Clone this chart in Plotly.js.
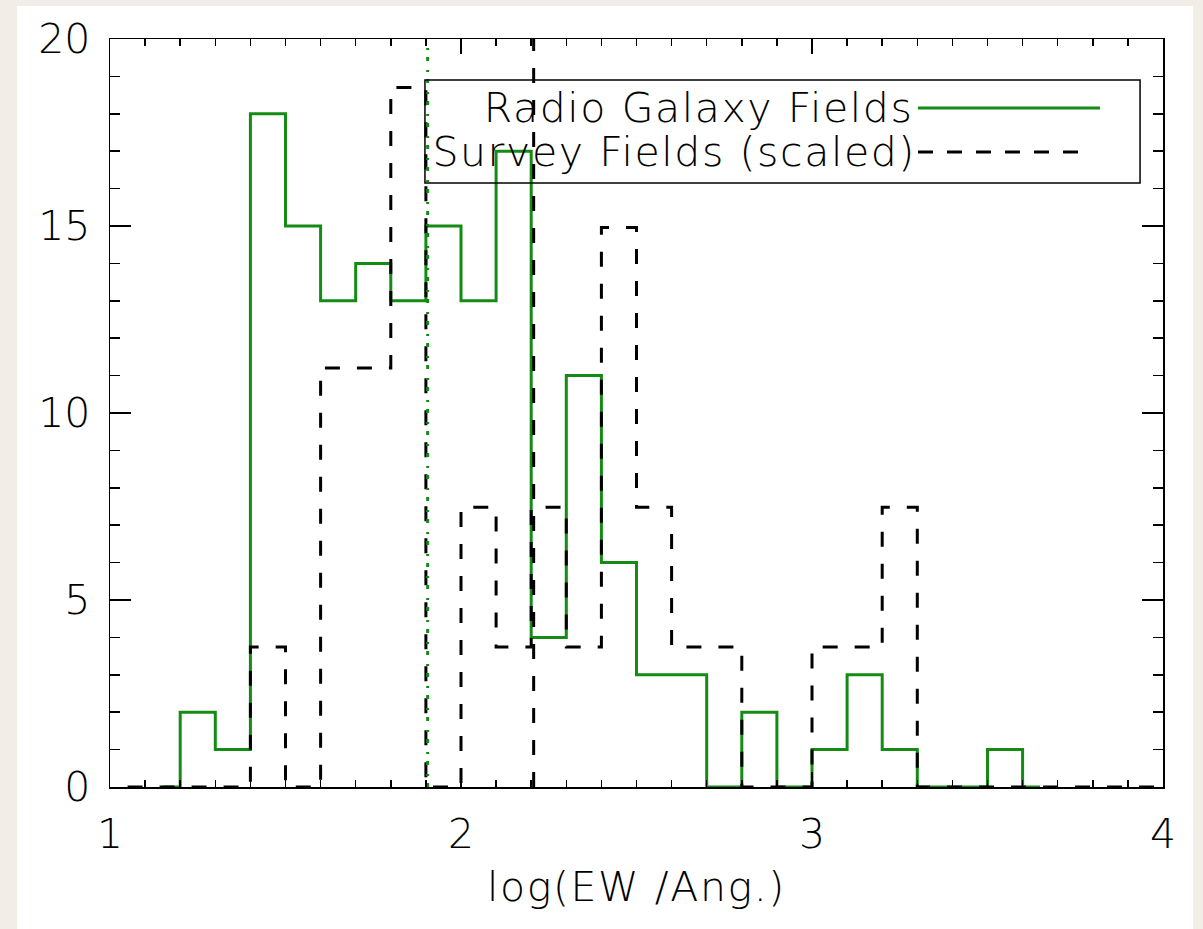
<!DOCTYPE html>
<html>
<head>
<meta charset="utf-8">
<script src="https://cdn.plot.ly/plotly-3.0.1.min.js"></script>
<style>
  html, body { margin: 0; padding: 0; background: #f2ede7; width: 1203px; height: 929px; overflow: hidden; }
  #chart { position: absolute; left: 17px; top: 6px; width: 1176px; height: 923px; background: #ffffff; }
  #chart .annotation-text, #chart .xtitle { letter-spacing: 1.6px; }
</style>
</head>
<body>
<div id="chart"></div>
<script>
// Bin centres (bin width 0.1 in log EW) and counts for the radio galaxy fields
const rgCentres = [1.15, 1.25, 1.35, 1.45, 1.55, 1.65, 1.75, 1.85, 1.95, 2.05, 2.15, 2.25, 2.35,
                   2.45, 2.55, 2.65, 2.75, 2.85, 2.95, 3.05, 3.15, 3.25, 3.35, 3.45, 3.55, 3.65];
const rgCounts  = [0, 2, 1, 18, 15, 13, 14, 13, 15, 13, 17, 4, 11,
                   6, 3, 3, 0, 2, 0, 1, 3, 1, 0, 0, 1, 0];

// Survey fields, scaled to the radio galaxy sample
const svCentres = [1.05, 1.15, 1.25, 1.35, 1.45, 1.55, 1.65, 1.75, 1.85, 1.95, 2.05, 2.15, 2.25,
                   2.35, 2.45, 2.55, 2.65, 2.75, 2.85, 2.95, 3.05, 3.15, 3.25, 3.35, 3.45,
                   3.55, 3.65, 3.75, 3.85, 3.95, 4.05];
const svScaled  = [0, 0, 0, 0, 3.74, 0, 11.2, 11.2, 18.7, 0, 7.48, 3.74, 7.48,
                   3.74, 14.96, 7.48, 3.74, 3.74, 0, 0, 3.74, 3.74, 7.48, 0, 0,
                   0, 0, 0, 0, 0, 0];

// Median log EW of each sample
const rgMedian = 1.905;
const svMedian = 2.207;

// Axis ticks
const xTicks = [1, 2, 3, 4];
const yTicks = [0, 5, 10, 15, 20];

const legendNames = ['Radio Galaxy Fields', 'Survey Fields (scaled)'];

const GREEN = 'rgb(20,140,20)';
const FONT = { family: 'DejaVu Sans, sans-serif', size: 41, color: '#000', weight: 200 };

const traces = [
  {
    x: rgCentres, y: rgCounts, type: 'scatter', mode: 'lines',
    line: { shape: 'hvh', color: GREEN, width: 3 }, hoverinfo: 'skip'
  },
  {
    x: svCentres, y: svScaled, type: 'scatter', mode: 'lines',
    line: { shape: 'hvh', color: '#000', width: 3, dash: '15px,17px' }, hoverinfo: 'skip'
  },
  {
    x: [rgMedian, rgMedian], y: [yTicks[0], yTicks[yTicks.length - 1]], type: 'scatter', mode: 'lines',
    line: { color: GREEN, width: 3, dash: '4px,7px,2px,9px' }, hoverinfo: 'skip'
  },
  {
    x: [svMedian, svMedian], y: [yTicks[0], yTicks[yTicks.length - 1]], type: 'scatter', mode: 'lines',
    line: { color: '#000', width: 3, dash: '15px,17px' }, hoverinfo: 'skip'
  }
];

// Legend drawn in plot-paper coordinates: text on the left, line sample on the right
const layout = {
  width: 1176, height: 923,
  margin: { l: 93, r: 30, t: 33, b: 142 },
  paper_bgcolor: '#ffffff', plot_bgcolor: '#ffffff',
  showlegend: false,
  font: FONT,
  xaxis: {
    range: [1, 4], tickvals: xTicks, ticktext: xTicks.map(String),
    ticks: 'inside', ticklen: 15, tickwidth: 1.5, tickcolor: '#000',
    minor: { dtick: 0.1, ticks: 'inside', ticklen: 7, tickwidth: 1.5, tickcolor: '#000' },
    showline: true, linecolor: '#000', linewidth: 1.5, mirror: 'ticks',
    showgrid: false, zeroline: false,
    tickfont: FONT, ticklabelstandoff: 10,
    title: { text: 'log(EW /Ang.)', font: FONT, standoff: 15 }
  },
  yaxis: {
    range: [0, 20], tickvals: yTicks, ticktext: yTicks.map(String),
    ticks: 'inside', ticklen: 21, tickwidth: 1.5, tickcolor: '#000',
    minor: { dtick: 1, ticks: 'inside', ticklen: 10, tickwidth: 1.5, tickcolor: '#000' },
    showline: true, linecolor: '#000', linewidth: 1.5, mirror: 'ticks',
    showgrid: false, zeroline: false,
    tickfont: FONT, ticklabelstandoff: 10
  },
  shapes: [
    { type: 'rect', xref: 'paper', yref: 'paper', x0: 0.2991, x1: 0.9782, y0: 0.8075, y1: 0.9452,
      line: { color: '#000', width: 1.5 }, fillcolor: 'rgba(0,0,0,0)' },
    { type: 'line', xref: 'paper', yref: 'paper', x0: 0.7673, x1: 0.9402, y0: 0.9078, y1: 0.9078,
      line: { color: GREEN, width: 3 } },
    { type: 'line', xref: 'paper', yref: 'paper', x0: 0.7673, x1: 0.9259, y0: 0.8489, y1: 0.8489,
      line: { color: '#000', width: 3, dash: '15px,14px' } }
  ],
  annotations: [
    { xref: 'paper', yref: 'paper', x: 0.750, y: 0.9078, xanchor: 'right', yanchor: 'middle',
      text: legendNames[0], showarrow: false, font: FONT },
    { xref: 'paper', yref: 'paper', x: 0.750, y: 0.8489, xanchor: 'right', yanchor: 'middle',
      text: legendNames[1], showarrow: false, font: FONT }
  ]
};

Plotly.newPlot('chart', traces, layout, { staticPlot: true, displayModeBar: false });
</script>
</body>
</html>
